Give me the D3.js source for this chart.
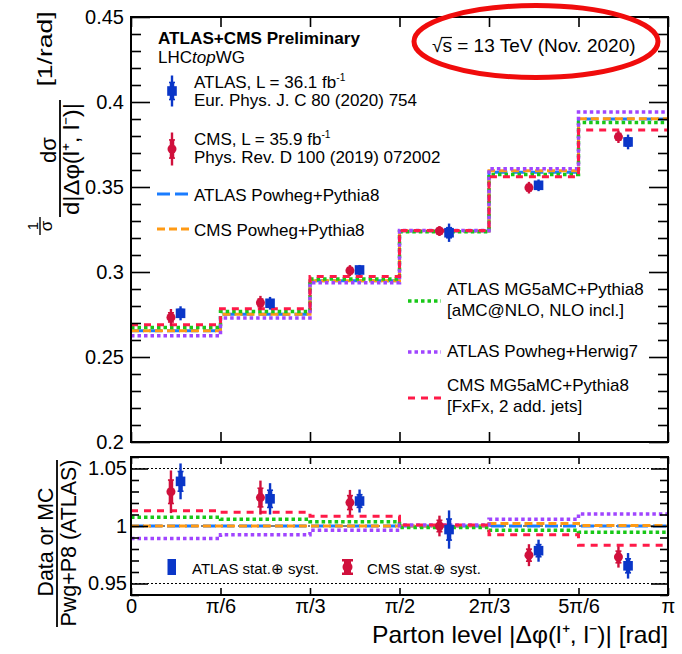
<!DOCTYPE html>
<html><head><meta charset="utf-8">
<script src="https://cdn.jsdelivr.net/npm/d3@7"></script>
<style>
body{margin:0;background:#fff;}
text{font-family:"Liberation Sans",Arial,Helvetica,sans-serif;fill:#000;}
</style>
</head><body>
<svg id="c" width="682" height="654"></svg>
<script>
// ---------------- data ----------------
const binEdges = [0, 1, 2, 3, 4, 5, 6].map(k => k * Math.PI / 6);
const xTickLabels = ["0", "π/6", "π/3", "π/2", "2π/3", "5π/6", "π"];
const mainYTicks = [0.2, 0.25, 0.3, 0.35, 0.4, 0.45];
const mainYTickLabels = ["0.2", "0.25", "0.3", "0.35", "0.4", "0.45"];
const ratioYTicks = [0.95, 1.0, 1.05];
const ratioYTickLabels = ["0.95", "1", "1.05"];

const atlasData = [0.2757, 0.2816, 0.3012, 0.3231, 0.3510, 0.3765];
const cmsData   = [0.2733, 0.2819, 0.3008, 0.3241, 0.3496, 0.3795];
const atlasTotRel = [0.0150, 0.0133, 0.0098, 0.0167, 0.0098, 0.0115];
const cmsTotRel   = [0.0180, 0.0144, 0.0108, 0.0090, 0.0098, 0.0095];

const atlasPwgPy8 = [0.2654, 0.2751, 0.2948, 0.3241, 0.3587, 0.3900];
const cmsPwgPy8   = [0.2654, 0.2751, 0.2948, 0.3241, 0.3595, 0.3902];
const atlasMG5Py8 = [0.2674, 0.2767, 0.2959, 0.3237, 0.3574, 0.3879];
const atlasPwgH7  = [0.2625, 0.2730, 0.2937, 0.3244, 0.3608, 0.3941];
const cmsMG5Py8   = [0.2689, 0.2784, 0.2973, 0.3244, 0.3560, 0.3835];

// ---------------- setup ----------------
const svg = d3.select("#c");
const X0 = 131, X1 = 668;
const x = d3.scaleLinear().domain([0, Math.PI]).range([X0, X1]);
const yM = d3.scaleLinear().domain([0.2, 0.45]).range([442, 17]);
const yR = d3.scaleLinear().domain([0.94, 1.06]).range([595, 457]);

const C_ATLAS = "#0a36c8", C_CMS = "#d0103c";
const mcStyles = [
  {vals: atlasPwgPy8, color: "#1a7cff", dash: "13,5", w: 3},
  {vals: cmsPwgPy8,   color: "#ff9a14", dash: "8,4",  w: 3},
  {vals: atlasMG5Py8, color: "#18c818", dash: "3.5,3", w: 3.5},
  {vals: atlasPwgH7,  color: "#a045ff", dash: "3.5,3", w: 3.5},
  {vals: cmsMG5Py8,   color: "#ff1a48", dash: "7,6",  w: 3}
];

function minorTicks(lo, hi, step, majors) {
  const out = [];
  for (let v = lo; v <= hi + 1e-9; v += step) {
    const r = Math.round(v * 1000) / 1000;
    if (!majors.some(m => Math.abs(m - r) < 1e-6)) out.push(r);
  }
  return out;
}

function styleAxis(g) {
  g.selectAll(".domain").remove();
  g.selectAll(".tick line").attr("stroke", "#000").attr("stroke-width", 1.6);
  g.selectAll("text").attr("font-size", 20).attr("font-family", "Liberation Sans, Arial, sans-serif").attr("fill", "#000");
}

function drawYAxis(scale, majors, labels, minors, majLen, minLen, labelPad) {
  const gL = svg.append("g").attr("transform", `translate(${X0},0)`)
    .call(d3.axisLeft(scale).tickValues(majors).tickSizeInner(-majLen).tickSizeOuter(0)
      .tickPadding(labelPad).tickFormat((d, i) => labels[i]));
  const gLm = svg.append("g").attr("transform", `translate(${X0},0)`)
    .call(d3.axisLeft(scale).tickValues(minors).tickSizeInner(-minLen).tickSizeOuter(0).tickFormat(""));
  const gR = svg.append("g").attr("transform", `translate(${X1},0)`)
    .call(d3.axisRight(scale).tickValues(majors).tickSizeInner(-majLen).tickSizeOuter(0).tickFormat(""));
  const gRm = svg.append("g").attr("transform", `translate(${X1},0)`)
    .call(d3.axisRight(scale).tickValues(minors).tickSizeInner(-minLen).tickSizeOuter(0).tickFormat(""));
  [gL, gLm, gR, gRm].forEach(styleAxis);
}

function drawXAxis(yTop, yBot, len, withLabels) {
  const gB = svg.append("g").attr("transform", `translate(0,${yBot})`)
    .call(d3.axisBottom(x).tickValues(binEdges).tickSizeInner(-len).tickSizeOuter(0)
     .tickPadding(4).tickFormat((d, i) => withLabels ? xTickLabels[i] : ""));
  const gT = svg.append("g").attr("transform", `translate(0,${yTop})`)
    .call(d3.axisTop(x).tickValues(binEdges).tickSizeInner(-len).tickSizeOuter(0).tickFormat(""));
  [gB, gT].forEach(styleAxis);
}

function stepPoints(vals) {
  const pts = [];
  vals.forEach((v, i) => { pts.push([binEdges[i], v]); pts.push([binEdges[i + 1], v]); });
  return pts;
}

// clip paths
const defs = svg.append("defs");
defs.append("clipPath").attr("id", "clipM").append("rect").attr("x", X0).attr("y", 17).attr("width", X1 - X0).attr("height", 442 - 17);
defs.append("clipPath").attr("id", "clipR").append("rect").attr("x", X0).attr("y", 457).attr("width", X1 - X0).attr("height", 595 - 457);

// ---------------- main panel ----------------
const gMain = svg.append("g").attr("clip-path", "url(#clipM)");
mcStyles.forEach(s => {
  gMain.append("path")
    .attr("d", d3.line().x(d => x(d[0])).y(d => yM(d[1]))(stepPoints(s.vals)))
    .attr("fill", "none").attr("stroke", s.color).attr("stroke-width", s.w)
    .attr("stroke-dasharray", s.dash);
});

// ---------------- ratio panel ----------------
const gRat = svg.append("g").attr("clip-path", "url(#clipR)");
[0.95, 1.05].forEach(v => {
  gRat.append("line").attr("x1", X0).attr("x2", X1).attr("y1", yR(v)).attr("y2", yR(v))
    .attr("stroke", "#000").attr("stroke-width", 1).attr("stroke-dasharray", "2,2");
});
gRat.append("line").attr("x1", X0).attr("x2", X1).attr("y1", yR(1)).attr("y2", yR(1))
  .attr("stroke", "#000").attr("stroke-width", 1).attr("stroke-dasharray", "6,3,2,3");
mcStyles.forEach(s => {
  const r = s.vals.map((v, i) => v / atlasPwgPy8[i]);
  gRat.append("path")
    .attr("d", d3.line().x(d => x(d[0])).y(d => yR(d[1]))(stepPoints(r)))
    .attr("fill", "none").attr("stroke", s.color).attr("stroke-width", s.w)
    .attr("stroke-dasharray", s.dash);
});

// ---------------- data points ----------------
function drawPoint(g, cx, cy, yLo, yHi, sLo, sHi, color, kind) {
  g.append("line").attr("x1", cx).attr("x2", cx).attr("y1", yLo).attr("y2", yHi)
    .attr("stroke", color).attr("stroke-width", 2.4);
  g.append("line").attr("x1", cx).attr("x2", cx).attr("y1", sLo).attr("y2", sHi)
    .attr("stroke", color).attr("stroke-width", 4.5);
  [sLo, sHi].forEach(yy => g.append("line").attr("x1", cx - 3).attr("x2", cx + 3).attr("y1", yy).attr("y2", yy)
    .attr("stroke", color).attr("stroke-width", 1.6));
  if (kind === "sq") {
    g.append("rect").attr("x", cx - 4.8).attr("y", cy - 4.8).attr("width", 9.6).attr("height", 9.6).attr("fill", color);
  } else {
    g.append("circle").attr("cx", cx).attr("cy", cy).attr("r", 4.5).attr("fill", color);
  }
}
const binCenters = binEdges.slice(0, 6).map((e, i) => (e + binEdges[i + 1]) / 2);
const dOff = 4.8;
const gPts = svg.append("g");
[
  {vals: cmsData, rel: cmsTotRel, color: C_CMS, kind: "ci", off: -dOff},
  {vals: atlasData, rel: atlasTotRel, color: C_ATLAS, kind: "sq", off: dOff}
].forEach(ds => {
  ds.vals.forEach((v, i) => {
    const cx = x(binCenters[i]) + ds.off;
    const e = ds.rel[i] * v, s = 0.55 * e;
    drawPoint(gPts, cx, yM(v), yM(v - e), yM(v + e), yM(v - s), yM(v + s), ds.color, ds.kind);
    const r = v / atlasPwgPy8[i], er = ds.rel[i] * r, sr = 0.55 * er;
    drawPoint(gPts, cx, yR(r), yR(r - er), yR(r + er), yR(r - sr), yR(r + sr), ds.color, ds.kind);
  });
});

// ---------------- axes & frames ----------------
drawYAxis(yM, mainYTicks, mainYTickLabels, minorTicks(0.2, 0.45, 0.01, mainYTicks), 19, 10, 7);
drawYAxis(yR, ratioYTicks, ratioYTickLabels, minorTicks(0.94, 1.06, 0.01, ratioYTicks), 17, 8, 4);
drawXAxis(17, 442, 10, false);
drawXAxis(457, 595, 7, true);
svg.append("rect").attr("x", X0).attr("y", 17).attr("width", X1 - X0).attr("height", 442 - 17)
  .attr("fill", "none").attr("stroke", "#000").attr("stroke-width", 2);
svg.append("rect").attr("x", X0).attr("y", 457).attr("width", X1 - X0).attr("height", 595 - 457)
  .attr("fill", "none").attr("stroke", "#000").attr("stroke-width", 2);

// ---------------- texts ----------------
function txt(xx, yy, s, size, opts = {}) {
  const t = svg.append("text").attr("x", xx).attr("y", yy).attr("font-size", size).text(s);
  if (opts.weight) t.attr("font-weight", opts.weight);
  if (opts.anchor) t.attr("text-anchor", opts.anchor);
  if (opts.len) t.attr("textLength", opts.len).attr("lengthAdjust", opts.adj || "spacingAndGlyphs");
  return t;
}
function supText(xx, yy, base, sup, size) {
  const t = svg.append("text").attr("x", xx).attr("y", yy).attr("font-size", size);
  t.append("tspan").text(base);
  t.append("tspan").attr("dy", -7).attr("font-size", size * 0.6).text(sup);
  return t;
}

txt(158, 44, "ATLAS+CMS Preliminary", 16.5, {weight: "bold", len: 202});
const lhc = svg.append("text").attr("x", 158).attr("y", 63).attr("font-size", 17);
lhc.append("tspan").text("LHC");
lhc.append("tspan").attr("font-style", "italic").text("top");
lhc.append("tspan").text("WG");

// legend markers (main)
function legPoint(cx, cy, half, color, kind) {
  drawPoint(svg, cx, cy, cy - half, cy + half, cy - half * 0.55, cy + half * 0.55, color, kind);
}
legPoint(172, 91, 15.5, C_ATLAS, "sq");
supText(194, 88, "ATLAS, L = 36.1 fb", "-1", 17);
txt(194, 106, "Eur. Phys. J. C 80 (2020) 754", 17);
legPoint(172, 149, 16.5, C_CMS, "ci");
supText(194, 145, "CMS, L = 35.9 fb", "-1", 17);
txt(194, 163, "Phys. Rev. D 100 (2019) 072002", 17);

function legLine(x1, x2, yy, s) {
  svg.append("line").attr("x1", x1).attr("x2", x2).attr("y1", yy).attr("y2", yy)
    .attr("stroke", s.color).attr("stroke-width", s.w).attr("stroke-dasharray", s.dash);
}
legLine(157, 189, 194, mcStyles[0]);
txt(194, 201, "ATLAS Powheg+Pythia8", 17);
legLine(157, 189, 229, mcStyles[1]);
txt(194, 236, "CMS Powheg+Pythia8", 17);

legLine(408, 441, 301, mcStyles[2]);
txt(447, 295, "ATLAS MG5aMC+Pythia8", 17);
txt(447, 316, "[aMC@NLO, NLO incl.]", 17);
legLine(408, 441, 352, mcStyles[3]);
txt(447, 357, "ATLAS Powheg+Herwig7", 17);
legLine(408, 441, 398, mcStyles[4]);
txt(447, 391, "CMS MG5aMC+Pythia8", 17);
txt(447, 412, "[FxFx, 2 add. jets]", 17);

// sqrt(s) label with ellipse
const sq = txt(432, 52, "√s = 13 TeV (Nov. 2020)", 19);
try {
  const n = sq.node();
  const w0 = n.getSubStringLength(0, 1), w1 = n.getSubStringLength(1, 1);
  svg.append("line").attr("x1", 432 + w0 - 1).attr("x2", 432 + w0 + w1).attr("y1", 37.5).attr("y2", 37.5)
    .attr("stroke", "#000").attr("stroke-width", 1.2);
} catch (e) {}
svg.append("ellipse").attr("cx", 536).attr("cy", 41.5).attr("rx", 122).attr("ry", 36)
  .attr("fill", "none").attr("stroke", "#f00c0c").attr("stroke-width", 5);

// ratio legend
svg.append("rect").attr("x", 167.5).attr("y", 559).attr("width", 8.5).attr("height", 16).attr("fill", C_ATLAS);
txt(192, 574, "ATLAS stat.⊕ syst.", 15);
svg.append("rect").attr("x", 344).attr("y", 559).attr("width", 7).attr("height", 16).attr("fill", C_CMS);
svg.append("rect").attr("x", 342).attr("y", 559).attr("width", 11).attr("height", 2.5).attr("fill", C_CMS);
svg.append("rect").attr("x", 342).attr("y", 572.5).attr("width", 11).attr("height", 2.5).attr("fill", C_CMS);
svg.append("circle").attr("cx", 347.5).attr("cy", 567).attr("r", 5).attr("fill", C_CMS);
txt(367, 574, "CMS stat.⊕ syst.", 15);

// x-axis title
txt(668, 643, "Parton level |Δφ(l⁺, l⁻)| [rad]", 24, {anchor: "end", len: 296});

// rotated y titles
function rotText(bx, cy, s, size, len) {
  const t = svg.append("text").attr("transform", `translate(${bx},${cy}) rotate(-90)`)
    .attr("text-anchor", "middle").attr("font-size", size).text(s);
  if (len) t.attr("textLength", len).attr("lengthAdjust", "spacingAndGlyphs");
  return t;
}
function vbar(xx, y1, y2, w) {
  svg.append("line").attr("x1", xx).attr("x2", xx).attr("y1", y1).attr("y2", y2).attr("stroke", "#000").attr("stroke-width", w);
}
// main y title
rotText(38, 226, "1", 15);
vbar(40, 217, 235, 1.4);
rotText(52, 226, "σ", 17);
rotText(56, 150, "dσ", 22);
vbar(60, 100, 217, 1.8);
rotText(79, 159, "d|Δφ(l⁺, l⁻)|", 22, 112);
rotText(52, 49, "[1/rad]", 20, 75);
// ratio y title
rotText(53, 542, "Data or MC", 22, 109);
vbar(57, 460, 627, 1.8);
rotText(76, 543, "Pwg+P8 (ATLAS)", 22, 167);
</script>
</body></html>
